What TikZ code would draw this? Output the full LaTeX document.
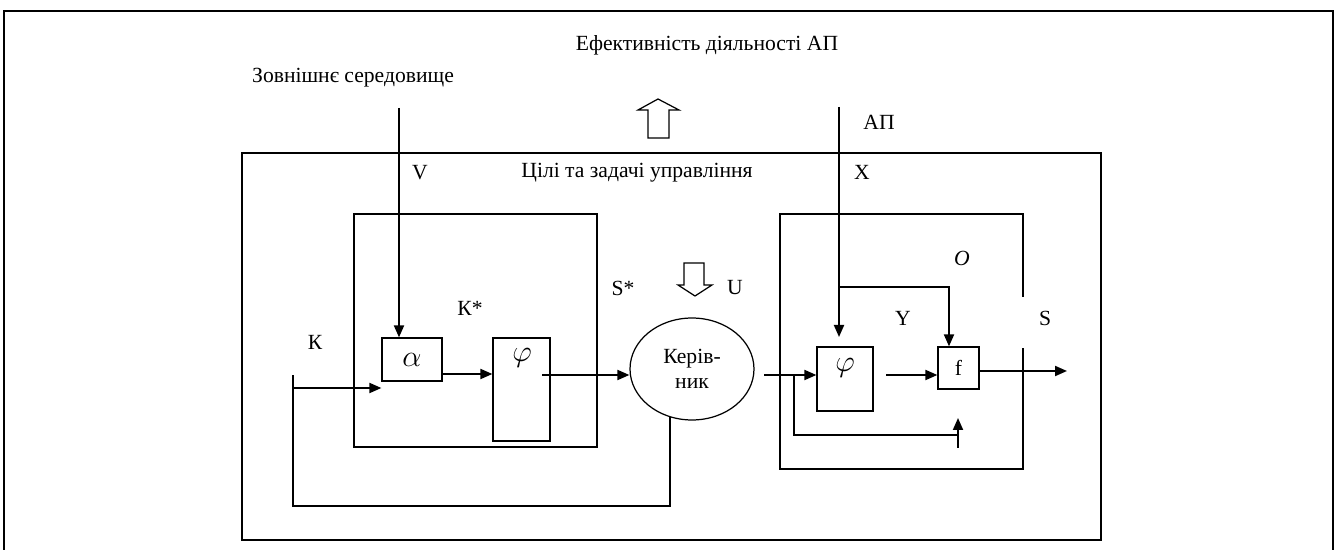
\documentclass[tikz,border=0pt]{standalone}
\usepackage{fontspec}
\setmainfont{Liberation Serif}
\usetikzlibrary{arrows.meta,shapes.geometric}

\begin{document}
\begin{tikzpicture}[
  x=0.02cm, y=-0.02cm,
  font=\fontsize{12.3}{14}\selectfont,
  block/.style={draw, line width=0.7pt, inner sep=0pt},
  lbl/.style={inner sep=0pt, align=center},
  sym/.style={inner sep=0pt, font=\fontsize{16}{18}\selectfont},
  arr/.style={line width=1.1pt, -{Triangle[length=0.24cm, width=0.2cm]}},
  wire/.style={line width=0.8pt},
  hollow/.style={draw, line width=0.7pt, fill=white}
]
  \useasboundingbox (0,0) rectangle (1336,550);

  % Outer frame (open at the bottom) and the big boxes
  \draw[line width=1.5pt] (4,550) -- (4,11) -- (1333,11) -- (1333,550);
  \draw[line width=0.7pt] (242,153) rectangle (1101,540); % goals and tasks
  \draw[line width=0.7pt] (354,214) rectangle (597,447);  % subject model
  \draw[line width=0.7pt] (1023,297) -- (1023,214) -- (780,214) -- (780,469)
    -- (1023,469) -- (1023,348);                           % object, gap at S

  % Blocks
  \node[block, minimum width=1.2cm, minimum height=0.86cm] (alpha) at (412,359.5) {};
  \node[sym] (alphal) at (412,360) {$\alpha$};
  \node[block, minimum width=1.14cm, minimum height=2.06cm] (phiA) at (521.5,389.5) {};
  \node[sym] (phiAl) at (522,358) {$\varphi$};
  \node[block, ellipse, minimum width=2.48cm, minimum height=2.04cm, align=center]
    (boss) at (692,369) {Керів-\\ник};
  \node[block, minimum width=1.12cm, minimum height=1.28cm] (phiB) at (845,379) {};
  \node[sym] (phiBl) at (845,368) {$\varphi$};
  \node[block, minimum width=0.82cm, minimum height=0.84cm] (fbox) at (958.5,368) {f};

  % Free ends
  \coordinate (vtop) at (399,108);
  \coordinate (xtop) at (839,107);
  \coordinate (xtip) at (839,337);
  \coordinate (ktop) at (293,375);
  \coordinate (kcorner) at (293,506);
  \coordinate (bossfoot) at (670,417);
  \coordinate (phiAout) at (542,375);
  \coordinate (bossout) at (764,375);
  \coordinate (jn) at (794,375);
  \coordinate (fbend) at (958,435);
  \coordinate (fbtail) at (958,448);
  \coordinate (fbtip) at (958,418);
  \coordinate (split) at (839,287);
  \coordinate (phiBout) at (886,375);
  \coordinate (sout) at (1067,371);

  % Connectors
  \draw[arr] (vtop) -- (alpha.north -| vtop);
  \draw[wire] (bossfoot) |- (kcorner) -- (ktop);
  \draw[arr] (293,388) -- (alpha.west |- 0,388);
  \draw[arr] (alpha.east |- 0,374) -- (phiA.west |- 0,374);
  \draw[arr] (phiAout) -- (boss.west |- phiAout);
  \draw[arr] (bossout) -- (phiB.west |- bossout);
  \draw[wire] (jn) |- (fbend);
  \draw[arr] (fbtail) -- (fbtip);
  \draw[arr] (xtop) -- (xtip);
  \draw[arr] (split) -| (fbox.north -| 949,0);
  \draw[arr] (phiBout) -- (fbox.west |- phiBout);
  \draw[arr] (fbox.east |- sout) -- (sout);

  % Hollow arrows
  \draw[hollow] (648,138) -- (648,110) -- (638,110) -- (658,99) -- (679,110)
    -- (669,110) -- (669,138) -- cycle;
  \draw[hollow] (684,263) -- (684,285) -- (678,285) -- (695,296) -- (712,285)
    -- (704,285) -- (704,263) -- cycle;

  % Labels
  \node[lbl] (eff) at (707,45) {Ефективність діяльності АП};
  \node[lbl] (env) at (353,78) {Зовнішнє середовище};
  \node[lbl] (ap) at (879,122) {АП};
  \node[lbl] (goals) at (637,173) {Цілі та задачі управління};
  \node[lbl] (vl) at (420,173) {V};
  \node[lbl] (xl) at (862,172) {X};
  \node[lbl] (kstar) at (470,308) {К*};
  \node[lbl] (kl) at (315,342) {К};
  \node[lbl] (sstar) at (623,288) {S*};
  \node[lbl] (ul) at (735,288) {U};
  \node[lbl] (ol) at (962,258) {\itshape O};
  \node[lbl] (yl) at (903,318) {Y};
  \node[lbl] (sl) at (1045,318) {S};
\end{tikzpicture}
\end{document}
